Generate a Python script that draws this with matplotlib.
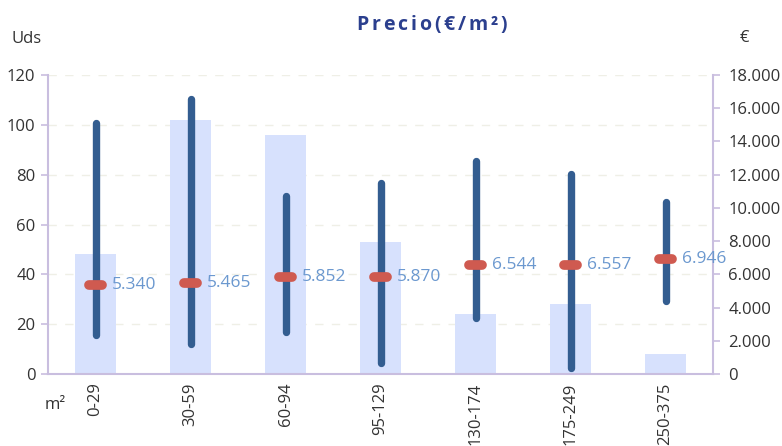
import numpy as np
import matplotlib
matplotlib.use("Agg")
import matplotlib.pyplot as plt
from matplotlib.ticker import FuncFormatter

plt.rcParams['font.family'] = ['Open Sans', 'DejaVu Sans']

rangos = ["0-29", "30-59", "60-94", "95-129", "130-174", "175-249", "250-375"]
uds = [48, 102, 96, 53, 24, 28, 8]
precio_min = [2350, 1800, 2500, 660, 3370, 360, 4400]
precio_max = [15100, 16550, 10700, 11500, 12800, 12050, 10350]
precio_medio = [5340, 5465, 5852, 5870, 6544, 6557, 6946]
titulo = "Precio(€/m²)"

azul_barra = "#d7e1fd"
azul_linea = "#335d90"
rojo = "#cf5a50"
azul_texto = "#6b98cf"
morado = "#c9bedf"
gris = "#333333"

fig = plt.figure(figsize=(7.82, 4.46), dpi=100)
ax = fig.add_axes([0.0614, 0.1614, 0.8504, 0.6704])
ax2 = ax.twinx()

x = np.arange(len(rangos))
ax.bar(x, uds, width=0.43, color=azul_barra, zorder=2)
ax.set_ylim(0, 120)
ax.set_xlim(-0.5, len(rangos) - 0.5)
ax.set_yticks(np.arange(0, 121, 20))
ax.yaxis.grid(True, linestyle=(0, (6, 6)), color="#efefe6", linewidth=1, zorder=0)
ax.set_axisbelow(True)

ax2.set_ylim(0, 18000)
ax2.set_yticks(np.arange(0, 18001, 2000))
ax2.yaxis.set_major_formatter(FuncFormatter(lambda v, p: "0" if v == 0 else f"{int(v):,}".replace(",", ".")))

for i in range(len(rangos)):
    ax2.plot([x[i], x[i]], [precio_min[i], precio_max[i]], color=azul_linea,
             lw=5.3, solid_capstyle="round", zorder=3)
    ax2.plot([x[i] - 0.065, x[i] + 0.065], [precio_medio[i], precio_medio[i]],
             color=rojo, lw=7, solid_capstyle="round", zorder=4)
    ax2.text(x[i] + 0.17, precio_medio[i], f"{precio_medio[i]:,}".replace(",", "."),
             color=azul_texto, fontsize=12.5, va="center", ha="left", zorder=5)

for a in (ax, ax2):
    a.spines["top"].set_visible(False)
    for s in ("left", "right", "bottom"):
        a.spines[s].set_color(morado)
        a.spines[s].set_linewidth(1.5)
ax2.spines["left"].set_visible(False)
ax.spines["right"].set_visible(False)
ax2.spines["bottom"].set_visible(False)

ax.set_xticks(x)
ax.set_xticklabels(rangos, rotation=90, fontsize=12, color=gris)
ax.tick_params(axis="x", length=0, pad=6)
ax.tick_params(axis="y", length=5, width=1.2, color=morado, labelsize=12, labelcolor=gris, pad=4)
ax2.tick_params(axis="y", length=5, width=1.2, color=morado, labelsize=12, labelcolor=gris, pad=6)

# titulo con espaciado entre letras
renderer = fig.canvas.get_renderer()
px = 356
for ch in titulo:
    t = fig.text(px / 782, 1 - 25 / 446, ch, fontweight="bold", fontsize=14,
                 color="#2b3f8e", ha="left", va="center")
    w = t.get_window_extent(renderer).width
    px += w + 2.9

fig.text(0.015, 0.912, "Uds", fontsize=12, color=gris, ha="left", va="center")
fig.text(0.946, 0.915, "€", fontsize=12, color=gris, ha="left", va="center")
fig.text(0.057, 0.092, "m²", fontsize=12, color=gris, ha="left", va="center")

fig.savefig("out.png", dpi=100)
